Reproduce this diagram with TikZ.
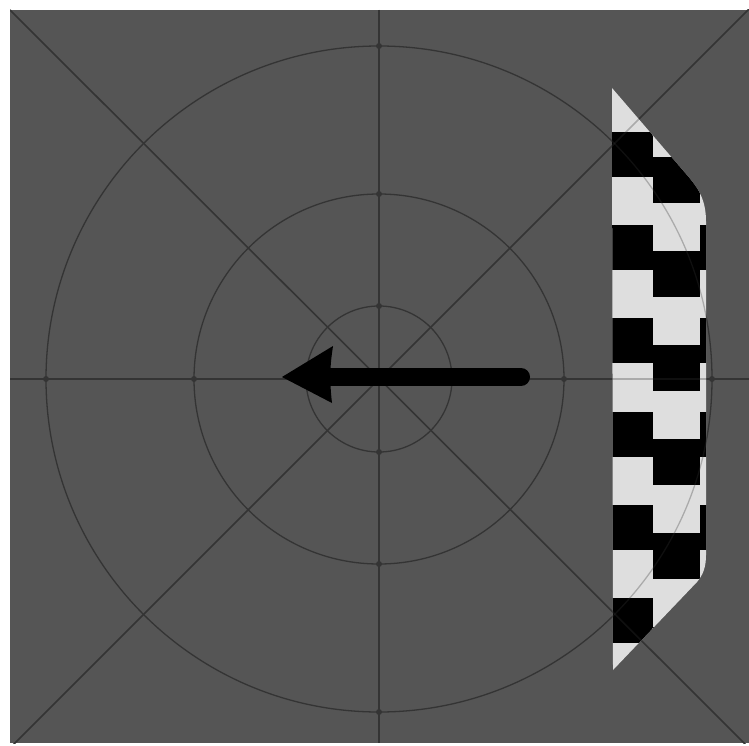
\documentclass[tikz,border=0pt]{standalone}
\begin{document}
\definecolor{bgc}{RGB}{85,85,85}
\definecolor{linec}{RGB}{52,52,52}
\definecolor{lightc}{RGB}{222,222,222}
\begin{tikzpicture}[x=1pt,y=-1pt,
  gridline/.style={draw=linec,line width=1.6pt},
  ringline/.style={draw=linec,line width=1.3pt}]
\useasboundingbox (0,0) rectangle (749,746);
\fill[white] (0,0) rectangle (749,746);
\fill[bgc] (10,10) rectangle (749,743);
\coordinate (c) at (379,379);
\coordinate (tl) at (10,10);
\coordinate (br) at (749,748);
\coordinate (tr) at (749,9);
\coordinate (bl) at (10,748);
\newcommand{\gridlines}{%
  \draw[gridline] (tl) -- (br);
  \draw[gridline] (tr) -- (bl);
  \draw[gridline] (379,10) -- (379,743);
  \draw[gridline] (10,379) -- (749,379);
  \draw[ringline] (c) circle[radius=333];
  \draw[ringline] (c) circle[radius=185];
  \draw[ringline] (c) circle[radius=73];
}
\begin{scope}
  \clip (10,10) rectangle (749,743);
  \gridlines
  % small tick marks where rings meet the axes
  \foreach \r in {333,185,73}{
    \fill[linec] (379,379-\r) circle[radius=3];
    \fill[linec] (379,379+\r) circle[radius=3];
    \fill[linec] (379-\r,379) circle[radius=3];
    \fill[linec] (379+\r,379) circle[radius=3];
  }
\end{scope}
% checker pattern
\begin{scope}
  \clip (612,88) -- (686,174) .. controls (699,189) and (706,200) .. (706,222)
        -- (706,555) .. controls (706,567) and (703,575) .. (697,582)
        -- (613,670) -- cycle;
  \fill[lightc] (600,80) rectangle (720,680);
  \foreach \k in {0,...,5}{
    \fill[black] (612,132+93.2*\k) rectangle (653,177+93.2*\k);
    \fill[black] (700,132+93.2*\k) rectangle (720,177+93.2*\k);
    \fill[black] (653,157+94*\k) rectangle (700,203+94*\k);
  }
  \begin{scope}[opacity=0.3]
    \gridlines
  \end{scope}
\end{scope}
% arrow
\coordinate (as) at (521,377);
\coordinate (ae) at (328,377);
\coordinate (tip) at (282,377);
\draw[black,line width=18pt,line cap=round] (as) -- (ae);
\fill[black] (tip) -- (333,346) .. controls (331,360) .. (330,377)
  .. controls (331,394) .. (332,403) -- cycle;
\end{tikzpicture}
\end{document}
